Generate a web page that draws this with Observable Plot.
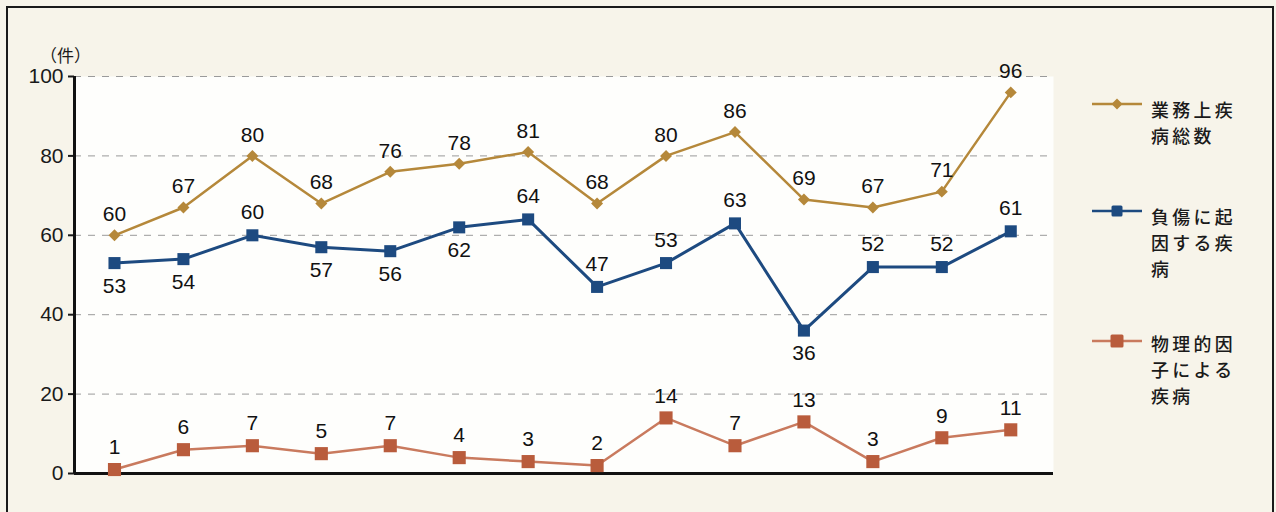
<!DOCTYPE html>
<html><head><meta charset="utf-8">
<script src="https://cdn.jsdelivr.net/npm/d3@7"></script>
<script src="https://cdn.jsdelivr.net/npm/@observablehq/plot@0.6"></script>
<style>
body{margin:0;background:#f7f4ea;}
#wrap{position:relative;width:1276px;height:512px;overflow:hidden;background:#f7f4ea;}
#frame{position:absolute;left:6px;top:6px;width:1264px;height:560px;border:2.5px solid #1a1a1a;}
#chart{position:absolute;left:0;top:0;}
.lg{position:absolute;left:1092px;top:0;}
.lg svg{position:absolute;left:0;}
.lg .t{position:absolute;left:59px;font-family:"Noto Sans CJK JP","Noto Sans",sans-serif;font-size:17.9px;line-height:26px;letter-spacing:3.4px;color:#1a1a1a;font-weight:500;white-space:nowrap;}
</style></head><body>
<div id="wrap"><div id="frame"></div><div id="chart"></div><div id="legend"></div></div>
<script>
// 14 periods (x labels not visible in the reference)
const periods = [1,2,3,4,5,6,7,8,9,10,11,12,13,14];
const seriesNames = ["業務上疾\n病総数", "負傷に起\n因する疾\n病", "物理的因\n子による\n疾病"];
const totalCases  = [60,67,80,68,76,78,81,68,80,86,69,67,71,96];
const injuryCases = [53,54,60,57,56,62,64,47,53,63,36,52,52,61];
const physicalCases = [1,6,7,5,7,4,3,2,14,7,13,3,9,11];
const injuryBelow = [1,2,4,5,6,11]; // periods whose label sits under the point
const yTicks = [0,20,40,60,80,100];

const colors = {total:"#b5883a", injury:"#1d4a80", physLine:"#c97a5e", physDot:"#b95c3c"};
const numFont = '"Liberation Sans Narrow","Arial Narrow","Liberation Sans",Arial,sans-serif';

const rows = (vals) => periods.map((p, i) => ({p, v: vals[i]}));
const total = rows(totalCases), injury = rows(injuryCases), phys = rows(physicalCases);
const xMin = 0.42, xMax = 14.62;

const chart = Plot.plot({
  width: 1276, height: 512,
  marginLeft: 74, marginRight: 223, marginTop: 76, marginBottom: 39,
  x: {domain: [xMin, xMax], axis: null},
  y: {domain: [0, 100], axis: null},
  style: {background: "transparent", color: "#1a1a1a"},
  marks: [
    Plot.frame({fill: "#fefefc", stroke: null}),
    Plot.gridY([20,40,60,80,100], {stroke: "#9a9a9a", strokeOpacity: 1, strokeDasharray: "7,7", strokeWidth: 1}),
    Plot.axisY({ticks: yTicks, tickSize: 6, tickPadding: 5, fontSize: 21, fontFamily: numFont, tickFormat: d => String(d), label: null, strokeWidth: 2}),
    Plot.ruleX([xMin], {y1: 0, y2: 100, stroke: "#111", strokeWidth: 3}),
    Plot.ruleY([0], {stroke: "#111", strokeWidth: 3}),
    Plot.text(["（件）"], {frameAnchor: "top-left", dx: -9, dy: -27, textAnchor: "middle", fontSize: 17, fontFamily: '"Noto Sans CJK JP",sans-serif', fill: "#1a1a1a"}),
    // physical factor
    Plot.line(phys, {x: "p", y: "v", stroke: colors.physLine, strokeWidth: 2.5}),
    Plot.dot(phys, {x: "p", y: "v", symbol: "square", r: 7.4, fill: colors.physDot, stroke: null}),
    Plot.text(phys, {x: "p", y: "v", text: d => String(d.v), dy: -22, fontSize: 21, fontFamily: numFont, fill: "#111"}),
    // injury
    Plot.line(injury, {x: "p", y: "v", stroke: colors.injury, strokeWidth: 3}),
    Plot.dot(injury, {x: "p", y: "v", symbol: "square", r: 6.8, fill: colors.injury, stroke: null}),
    Plot.text(injury, {x: "p", y: "v", text: d => String(d.v), fontSize: 21, fontFamily: numFont, fill: "#111",
      filter: d => !injuryBelow.includes(d.p), dy: -23}),
    Plot.text(injury, {x: "p", y: "v", text: d => String(d.v), fontSize: 21, fontFamily: numFont, fill: "#111",
      filter: d => injuryBelow.includes(d.p), dy: 23}),
    // total
    Plot.line(total, {x: "p", y: "v", stroke: colors.total, strokeWidth: 2.5}),
    Plot.dot(total, {x: "p", y: "v", symbol: "diamond2", r: 5.4, fill: colors.total, stroke: null}),
    Plot.text(total, {x: "p", y: "v", text: d => String(d.v), dy: -21, fontSize: 21, fontFamily: numFont, fill: "#111"})
  ]
});
document.getElementById("chart").appendChild(chart);

// legend
const legendItems = [
  {name: seriesNames[0], line: colors.total, dot: colors.total, shape: "diamond", top: 104, textTop: 96},
  {name: seriesNames[1], line: colors.injury, dot: colors.injury, shape: "square", top: 211, textTop: 203},
  {name: seriesNames[2], line: colors.physLine, dot: colors.physDot, shape: "bigsquare", top: 341, textTop: 330}
];
const lg = document.getElementById("legend");
legendItems.forEach(it => {
  const d = document.createElement("div");
  d.className = "lg";
  let marker;
  if (it.shape === "diamond") marker = `<path d="M25,1.5 L30.5,7 L25,12.5 L19.5,7 Z" fill="${it.dot}"/>`;
  else if (it.shape === "square") marker = `<rect x="19.5" y="1.5" width="11" height="11" rx="1.5" fill="${it.dot}"/>`;
  else marker = `<rect x="18.5" y="0.5" width="13" height="13" rx="1.5" fill="${it.dot}"/>`;
  let html = `<svg width="50" height="14" style="top:${it.top - 7}px"><line x1="0" x2="50" y1="7" y2="7" stroke="${it.line}" stroke-width="2.5"/>${marker}</svg>`;
  it.name.split("\n").forEach((ln, k) => {
    html += `<div class="t" style="top:${it.textTop + k * 26}px">${ln}</div>`;
  });
  d.innerHTML = html;
  lg.appendChild(d);
});
</script>
</body></html>
